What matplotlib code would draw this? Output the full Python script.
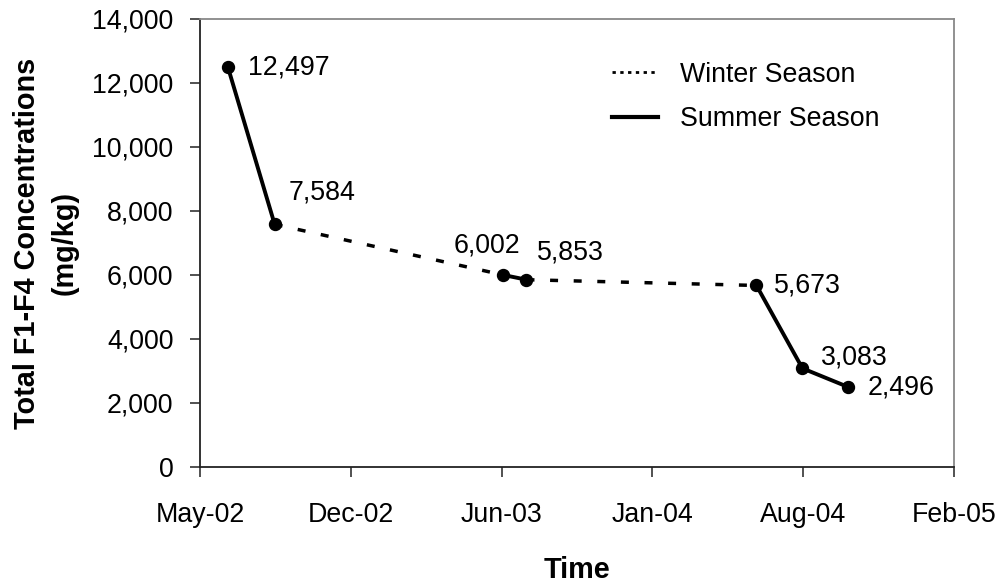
import datetime as dt
import matplotlib
matplotlib.use("Agg")
import matplotlib.pyplot as plt
import matplotlib.dates as mdates
from matplotlib.lines import Line2D

plt.rcParams['font.family'] = ['Liberation Sans', 'DejaVu Sans']

# sampling dates and total F1-F4 concentrations (mg/kg)
sample_dates = [dt.date(2002, 7, 1), dt.date(2002, 9, 1), dt.date(2003, 7, 1),
                dt.date(2003, 8, 1), dt.date(2004, 6, 1), dt.date(2004, 8, 1),
                dt.date(2004, 10, 1)]
concentrations = [12497, 7584, 6002, 5853, 5673, 3083, 2496]

summer_segments = [[0, 1], [2, 3], [4, 5, 6]]
winter_segments = [[1, 2], [3, 4]]

# x axis: Excel-style date axis, 200 day major unit
axis_start = dt.date(2002, 5, 25)
axis_step_days = 200
n_steps = 5
yticks = [0, 2000, 4000, 6000, 8000, 10000, 12000, 14000]

# label offsets in pixels (dx, dy, ha)
label_offsets = [(20, 0, 'left'), (14, 32, 'left'), (-16, 29, 'center'),
                 (10, 27, 'left'), (18, 0, 'left'), (19, 11, 'left'),
                 (19, 0, 'left')]

fs = 19.3
fs_title = 20.8

fig = plt.figure(figsize=(10.08, 5.83), dpi=100)
ax = fig.add_axes([200 / 1008, 1 - 467 / 583, 754 / 1008, 448 / 583])

for seg in winter_segments:
    ax.plot([sample_dates[i] for i in seg], [concentrations[i] for i in seg],
            color='black', lw=2.5, linestyle=(0, (2.3, 4.5)),
            dash_capstyle='butt', zorder=2)

for seg in summer_segments:
    ax.plot([sample_dates[i] for i in seg], [concentrations[i] for i in seg],
            color='black', lw=2.8, marker='o', markersize=8.6, zorder=3)

for d, v, (dx, dy, ha) in zip(sample_dates, concentrations, label_offsets):
    ax.annotate(f"{v:,}", xy=(d, v), xytext=(dx, dy), textcoords='offset pixels',
                ha=ha, va='center', fontsize=fs)

ticks = [axis_start + dt.timedelta(days=axis_step_days * k) for k in range(n_steps + 1)]
ax.set_xlim(ticks[0], ticks[-1])
ax.set_xticks(ticks)
ax.xaxis.set_major_formatter(mdates.DateFormatter('%b-%y'))
ax.set_ylim(0, 14000)
ax.set_yticks(yticks)
ax.set_yticklabels([f"{t:,}" for t in yticks])

ax.tick_params(axis='both', labelsize=fs, length=7, width=1.2, color='#333333',
               direction='out')
ax.tick_params(axis='y', pad=12)
ax.tick_params(axis='x', pad=18)

for s in ['left', 'bottom']:
    ax.spines[s].set_color('#222222')
    ax.spines[s].set_linewidth(1.3)
for s in ['top', 'right']:
    ax.spines[s].set_color('#888888')
    ax.spines[s].set_linewidth(1.3)

ax.set_xlabel('Time', fontsize=fs_title, fontweight='bold', labelpad=20)
ax.set_ylabel('Total F1-F4 Concentrations\n(mg/kg)', fontsize=fs_title,
              fontweight='bold', labelpad=10, linespacing=1.45)

handles = [Line2D([], [], color='black', lw=2, linestyle=(0, (1.2, 1.6))),
           Line2D([], [], color='black', lw=3)]
ax.legend(handles, ['Winter Season', 'Summer Season'], loc='center left',
          bbox_to_anchor=(612 / 1008, 1 - 97 / 583), bbox_transform=fig.transFigure,
          frameon=False, fontsize=fs, handlelength=1.7, handletextpad=0.85,
          borderpad=0, borderaxespad=0, labelspacing=0.7)

fig.savefig('out.png', dpi=100)
